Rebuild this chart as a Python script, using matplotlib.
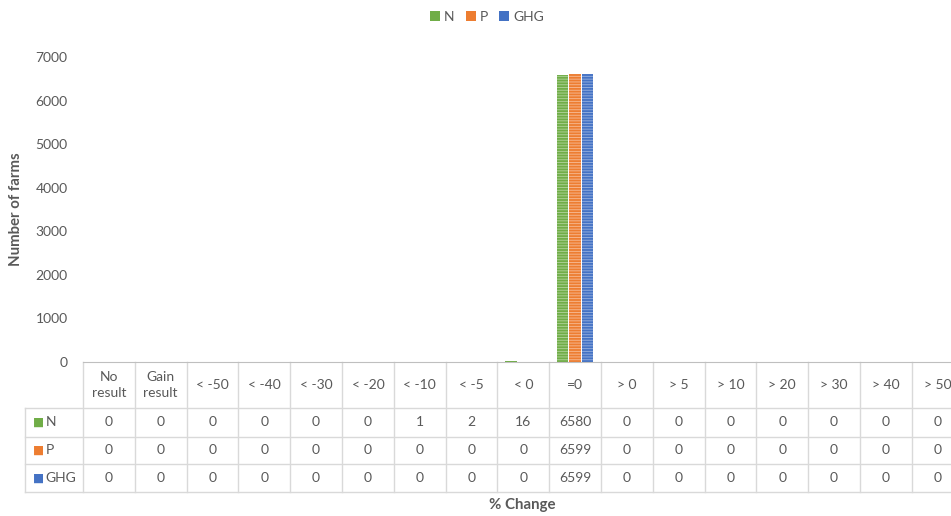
import matplotlib.pyplot as plt
import matplotlib.transforms as mtransforms
from matplotlib.patches import Patch
import numpy as np

plt.rcParams['font.family'] = ['Lato', 'DejaVu Sans']
plt.rcParams['hatch.linewidth'] = 0.7

categories = ["No\nresult", "Gain\nresult", "< -50", "< -40", "< -30", "< -20",
              "< -10", "< -5", "< 0", "=0", "> 0", "> 5", "> 10", "> 20",
              "> 30", "> 40", "> 50"]
n_vals = [0, 0, 0, 0, 0, 0, 1, 2, 16, 6580, 0, 0, 0, 0, 0, 0, 0]
p_vals = [0, 0, 0, 0, 0, 0, 0, 0, 0, 6599, 0, 0, 0, 0, 0, 0, 0]
ghg_vals = [0, 0, 0, 0, 0, 0, 0, 0, 0, 6599, 0, 0, 0, 0, 0, 0, 0]
series_names = ["N", "P", "GHG"]
y_ticks = [0, 1000, 2000, 3000, 4000, 5000, 6000, 7000]

colors = ["#70ad47", "#ed7d31", "#4472c4"]
stripes = ["#a9cf92", "#f6b48a", "#8eaadc"]
txt = "#595959"
grid = "#d9d9d9"
fs = 10

W, H = 951, 516
col_w = 51.8
ax_left, ax_bottom, ax_top = 83, 362, 57
ncat = len(categories)

fig = plt.figure(figsize=(W / 100, H / 100), dpi=100)
ax = fig.add_axes([ax_left / W, (H - ax_bottom) / H,
                   ncat * col_w / W, (ax_bottom - ax_top) / H])

x = np.arange(ncat)
width = 0.222
offsets = [-0.241, 0, 0.241]
for vals, off, c, s in zip([n_vals, p_vals, ghg_vals], offsets, colors, stripes):
    ax.bar(x + off, vals, width, color=c, edgecolor=s, linewidth=0, hatch='------')

ax.set_xlim(-0.5, ncat - 0.5)
ax.set_ylim(0, 7000)
ax.set_yticks(y_ticks)
ax.tick_params(axis='y', length=0, pad=11, labelsize=fs, labelcolor=txt)
ax.set_xticks([])
for side in ['left', 'right', 'top']:
    ax.spines[side].set_visible(False)
ax.spines['bottom'].set_color("#bfbfbf")
ax.set_ylabel("Number of farms", fontsize=10.8, fontweight='bold', color=txt, labelpad=9)

# data table under the axis, x in data units, y in pixels below the axis
px = (ax_bottom - ax_top)
trans = mtransforms.blended_transform_factory(ax.transData, ax.transAxes)
def yb(p):
    return -p / px

row_edges = [0, 46, 75, 102, 130]
label_left = -0.5 - (ax_left - 25) / col_w

# vertical lines between columns
for i in range(ncat + 1):
    ax.plot([i - 0.5, i - 0.5], [yb(row_edges[0]), yb(row_edges[-1])],
            color=grid, lw=1, transform=trans, clip_on=False)
ax.plot([label_left, label_left], [yb(row_edges[1]), yb(row_edges[-1])],
        color=grid, lw=1, transform=trans, clip_on=False)
# horizontal lines
for r in row_edges[1:]:
    ax.plot([label_left, ncat - 0.5], [yb(r), yb(r)],
            color=grid, lw=1, transform=trans, clip_on=False)

for i, cat in enumerate(categories):
    ax.text(i, yb(row_edges[1] / 2), cat, ha='center', va='center', fontsize=fs,
            color=txt, transform=trans, clip_on=False, linespacing=1.35)

for k, (name, vals, c) in enumerate(zip(series_names, [n_vals, p_vals, ghg_vals], colors)):
    ymid = yb((row_edges[k + 1] + row_edges[k + 2]) / 2)
    ax.text(label_left + 0.15, ymid, "\u25A0", ha='left', va='center', fontsize=8.5,
            color=c, transform=trans, clip_on=False, family='DejaVu Sans')
    ax.text(label_left + 0.40, ymid, name, ha='left', va='center', fontsize=fs,
            color=txt, transform=trans, clip_on=False)
    for i, v in enumerate(vals):
        ax.text(i, ymid, str(v), ha='center', va='center', fontsize=fs,
                color=txt, transform=trans, clip_on=False)

fig.text(522 / W, 1 - 505 / H, "% Change", ha='center', va='center', fontsize=10.8,
         fontweight='bold', color=txt)

handles = [Patch(facecolor=c) for c in colors]
fig.legend(handles, series_names, loc='center', bbox_to_anchor=(487 / W, 1 - 17 / H),
           ncol=3, frameon=False, fontsize=fs, labelcolor=txt, handlelength=0.7,
           handleheight=0.7, handletextpad=0.3, columnspacing=0.8)

fig.savefig("out.png", dpi=100)
